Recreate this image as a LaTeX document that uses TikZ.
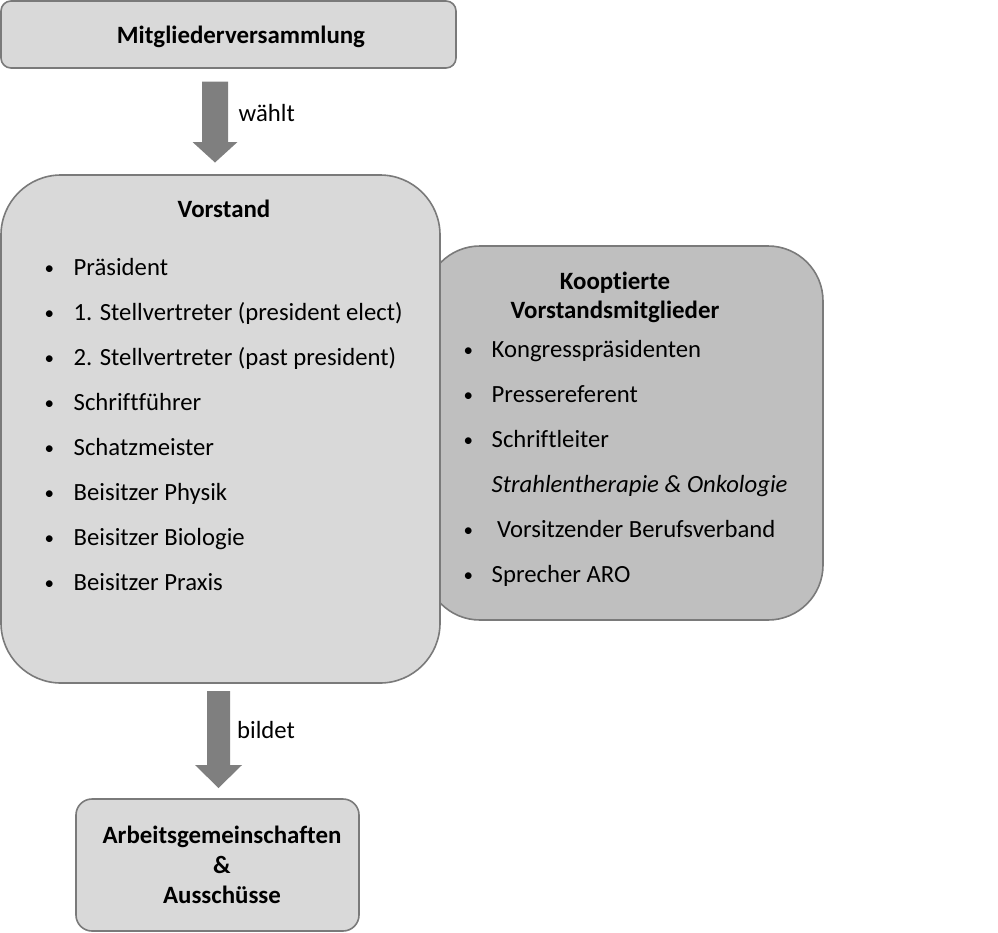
\documentclass[tikz,border=0pt]{standalone}
\usepackage{fontspec}
\setmainfont{Carlito}[Ligatures=NoCommon]
\definecolor{boxfill}{HTML}{D9D9D9}
\definecolor{koopfill}{HTML}{BFBFBF}
\definecolor{edgegray}{HTML}{7A7A7A}
\definecolor{arrowgray}{HTML}{7F7F7F}
\begin{document}
\begin{tikzpicture}[x=1pt,y=-1pt,
  panel/.style={draw=edgegray, line width=1.6pt, inner sep=0pt},
  txt/.style={font=\fontsize{24.7}{29}\selectfont, inner sep=0pt, anchor=base west},
  ttl/.style={font=\fontsize{24.9}{29}\selectfont\bfseries, inner sep=0pt, anchor=base},
  blt/.style={font=\fontsize{19}{23}\selectfont, inner sep=0pt, anchor=base west},
  blockarrow/.style={fill=arrowgray, draw=none}]
\useasboundingbox (0,0) rectangle (998,932);

% top box
\node[panel, fill=boxfill, rounded corners=10pt, minimum width=455pt, minimum height=67pt] (mv) at (228.5,34.5) {};
\node[ttl] (mvt) at (241,43) {Mitgliederversammlung};

% arrow 1
\fill[blockarrow] (202,81.5) -- (228,81.5) -- (228,142) -- (237.5,142) -- (215,162.5) -- (192.5,142) -- (202,142) -- cycle;
\node[txt] (waehlt) at (238.5,121.5) {wählt};

% Kooptierte box (behind)
\node[panel, fill=koopfill, rounded corners=55pt, minimum width=398pt, minimum height=374pt] (koop) at (624,433) {};

% Vorstand box
\node[panel, fill=boxfill, rounded corners=60pt, minimum width=439pt, minimum height=508pt] (vs) at (220.5,429) {};
\node[ttl] (vst) at (224,217) {Vorstand};
\foreach \t [count=\i] in {Präsident,1. Stellvertreter (president elect),2. Stellvertreter (past president),Schriftführer,Schatzmeister,Beisitzer Physik,Beisitzer Biologie,Beisitzer Praxis}{
  \node[blt] (vb\i) at (44.5,{274+45*(\i-1)}) {•};
  \node[txt] (vi\i) at (73.5,{275+45*(\i-1)}) {\t};
}

% Kooptierte text
\node[ttl] (kt1) at (615,289) {Kooptierte};
\node[ttl] (kt2) at (615,318.5) {Vorstandsmitglieder};
\node[blt] (kb1) at (463.5,356) {•};
\node[txt] (ki1) at (491.5,357) {Kongresspräsidenten};
\node[blt] (kb2) at (463.5,401) {•};
\node[txt] (ki2) at (491.5,402) {Pressereferent};
\node[blt] (kb3) at (463.5,446) {•};
\node[txt] (ki3) at (491.5,447) {Schriftleiter};
\node[txt] (ki3b) at (491.5,492) {\itshape Strahlentherapie \& Onkologie};
\node[blt] (kb4) at (463.5,536) {•};
\node[txt] (ki4) at (497,537) {Vorsitzender Berufsverband};
\node[blt] (kb5) at (463.5,581) {•};
\node[txt] (ki5) at (491.5,582) {Sprecher ARO};

% arrow 2
\fill[blockarrow] (207,691) -- (230,691) -- (230,765) -- (242,765) -- (218.5,788) -- (195,765) -- (207,765) -- cycle;
\node[txt] (bildet) at (237,738) {bildet};

% bottom box
\node[panel, fill=boxfill, rounded corners=16pt, minimum width=283pt, minimum height=132pt] (ag) at (217.5,865) {};
\node[ttl] (ag1) at (222,843) {Arbeitsgemeinschaften};
\node[ttl] (ag2) at (222,873) {\&};
\node[ttl] (ag3) at (222,903) {Ausschüsse};
\end{tikzpicture}
\end{document}
